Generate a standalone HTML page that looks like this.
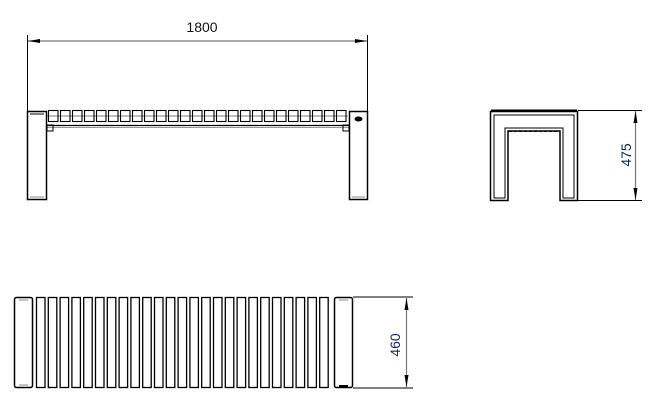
<!DOCTYPE html>
<html><head><style>body{margin:0;background:#fff}svg{display:block}</style></head>
<body>
<svg width="654" height="416" viewBox="0 0 654 416" xmlns="http://www.w3.org/2000/svg" font-family="Liberation Sans, sans-serif">
<line x1="27.5" y1="35" x2="27.5" y2="112" stroke="#000"/>
<line x1="367.5" y1="35" x2="367.5" y2="112" stroke="#000"/>
<line x1="28" y1="41" x2="367" y2="41" stroke="#777" stroke-width="1.2"/>
<polygon points="28,41 40,39 40,43" fill="#000"/>
<polygon points="367,41 355,39 355,43" fill="#000"/>
<text x="202" y="32" font-size="14" text-anchor="middle" fill="#111">1800</text>
<rect x="27.5" y="111.5" width="19" height="88" fill="#fff" stroke="#000" stroke-width="1.5"/>
<line x1="30" y1="114" x2="44" y2="114" stroke="#000"/>
<line x1="30" y1="197" x2="44" y2="197" stroke="#888"/>
<rect x="349.5" y="111.5" width="18" height="88" fill="#fff" stroke="#000" stroke-width="1.5"/>
<ellipse cx="358.5" cy="119" rx="4" ry="2.5" fill="#000"/>
<line x1="352" y1="197" x2="365" y2="197" stroke="#888"/>
<line x1="47" y1="125.5" x2="349" y2="125.5" stroke="#000" stroke-width="1.2"/>
<line x1="47" y1="127.5" x2="349" y2="127.5" stroke="#999"/>
<rect x="47" y="125" width="6" height="6" fill="none" stroke="#000"/>
<rect x="343" y="125" width="6" height="6" fill="none" stroke="#000"/>
<g fill="#fff" stroke="#000" stroke-width="1.1">
<rect x="48.5" y="110.5" width="9.5" height="11"/><rect x="60.5" y="110.5" width="9.5" height="11"/><rect x="72.5" y="110.5" width="9.5" height="11"/><rect x="84.5" y="110.5" width="9.5" height="11"/><rect x="96.5" y="110.5" width="9.5" height="11"/><rect x="108.5" y="110.5" width="9.5" height="11"/><rect x="120.5" y="110.5" width="9.5" height="11"/><rect x="132.5" y="110.5" width="9.5" height="11"/><rect x="144.5" y="110.5" width="9.5" height="11"/><rect x="156.5" y="110.5" width="9.5" height="11"/><rect x="168.5" y="110.5" width="9.5" height="11"/><rect x="180.5" y="110.5" width="9.5" height="11"/><rect x="192.5" y="110.5" width="9.5" height="11"/><rect x="204.5" y="110.5" width="9.5" height="11"/><rect x="216.5" y="110.5" width="9.5" height="11"/><rect x="228.5" y="110.5" width="9.5" height="11"/><rect x="240.5" y="110.5" width="9.5" height="11"/><rect x="252.5" y="110.5" width="9.5" height="11"/><rect x="264.5" y="110.5" width="9.5" height="11"/><rect x="276.5" y="110.5" width="9.5" height="11"/><rect x="288.5" y="110.5" width="9.5" height="11"/><rect x="300.5" y="110.5" width="9.5" height="11"/><rect x="312.5" y="110.5" width="9.5" height="11"/><rect x="324.5" y="110.5" width="9.5" height="11"/><rect x="336.5" y="110.5" width="9.5" height="11"/>
</g>
<line x1="47" y1="116" x2="348" y2="116" stroke="#000" stroke-width="0.6"/>
<path d="M490.5,200.5 V111.5 H577.5 V200.5 H560 V131 H508 V200.5 Z" fill="#fff" stroke="#000" stroke-width="1.5"/>
<path d="M494,198 V115 H574 V198 H563 V128 H505 V198 Z" fill="none" stroke="#000" stroke-width="1"/>
<line x1="491" y1="110.5" x2="577" y2="110.5" stroke="#000" stroke-width="2"/>
<line x1="509" y1="131.5" x2="559" y2="131.5" stroke="#000" stroke-dasharray="3,2"/>
<line x1="578" y1="110.5" x2="642" y2="110.5" stroke="#000"/>
<line x1="578" y1="200.5" x2="642" y2="200.5" stroke="#000"/>
<line x1="635.5" y1="111" x2="635.5" y2="200" stroke="#777" stroke-width="1.2"/>
<polygon points="635.5,111 633.5,123 637.5,123" fill="#000"/>
<polygon points="635.5,200 633.5,188 637.5,188" fill="#000"/>
<text transform="translate(631,155) rotate(-90)" font-size="14" text-anchor="middle" fill="#0a2a6a">475</text>
<rect x="14.5" y="297.5" width="18" height="90" rx="2" fill="#fff" stroke="#000" stroke-width="1.5"/>
<line x1="19" y1="300" x2="28" y2="300" stroke="#888"/>
<line x1="19" y1="385" x2="28" y2="385" stroke="#888"/>
<rect x="334.5" y="297.5" width="18" height="90" rx="2" fill="#fff" stroke="#000" stroke-width="1.5"/>
<line x1="339" y1="300" x2="348" y2="300" stroke="#888"/>
<line x1="339" y1="386" x2="348" y2="386" stroke="#000" stroke-width="2"/>
<g fill="#fff" stroke="#000" stroke-width="1.3">
<rect x="36.5" y="297.5" width="8.5" height="90"/><rect x="48.3" y="297.5" width="8.5" height="90"/><rect x="60.1" y="297.5" width="8.5" height="90"/><rect x="71.9" y="297.5" width="8.5" height="90"/><rect x="83.7" y="297.5" width="8.5" height="90"/><rect x="95.5" y="297.5" width="8.5" height="90"/><rect x="107.3" y="297.5" width="8.5" height="90"/><rect x="119.1" y="297.5" width="8.5" height="90"/><rect x="130.9" y="297.5" width="8.5" height="90"/><rect x="142.7" y="297.5" width="8.5" height="90"/><rect x="154.5" y="297.5" width="8.5" height="90"/><rect x="166.3" y="297.5" width="8.5" height="90"/><rect x="178.1" y="297.5" width="8.5" height="90"/><rect x="189.9" y="297.5" width="8.5" height="90"/><rect x="201.7" y="297.5" width="8.5" height="90"/><rect x="213.5" y="297.5" width="8.5" height="90"/><rect x="225.3" y="297.5" width="8.5" height="90"/><rect x="237.1" y="297.5" width="8.5" height="90"/><rect x="248.9" y="297.5" width="8.5" height="90"/><rect x="260.7" y="297.5" width="8.5" height="90"/><rect x="272.5" y="297.5" width="8.5" height="90"/><rect x="284.3" y="297.5" width="8.5" height="90"/><rect x="296.1" y="297.5" width="8.5" height="90"/><rect x="307.9" y="297.5" width="8.5" height="90"/><rect x="319.7" y="297.5" width="8.5" height="90"/>
</g>
<line x1="353" y1="297" x2="413" y2="297" stroke="#000"/>
<line x1="353" y1="388" x2="413" y2="388" stroke="#000"/>
<line x1="406.5" y1="298" x2="406.5" y2="387" stroke="#777" stroke-width="1.2"/>
<polygon points="406.5,298 404.5,310 408.5,310" fill="#000"/>
<polygon points="406.5,387 404.5,375 408.5,375" fill="#000"/>
<text transform="translate(400,345) rotate(-90)" font-size="14" text-anchor="middle" fill="#0a2a6a">460</text>
</svg>
</body></html>
